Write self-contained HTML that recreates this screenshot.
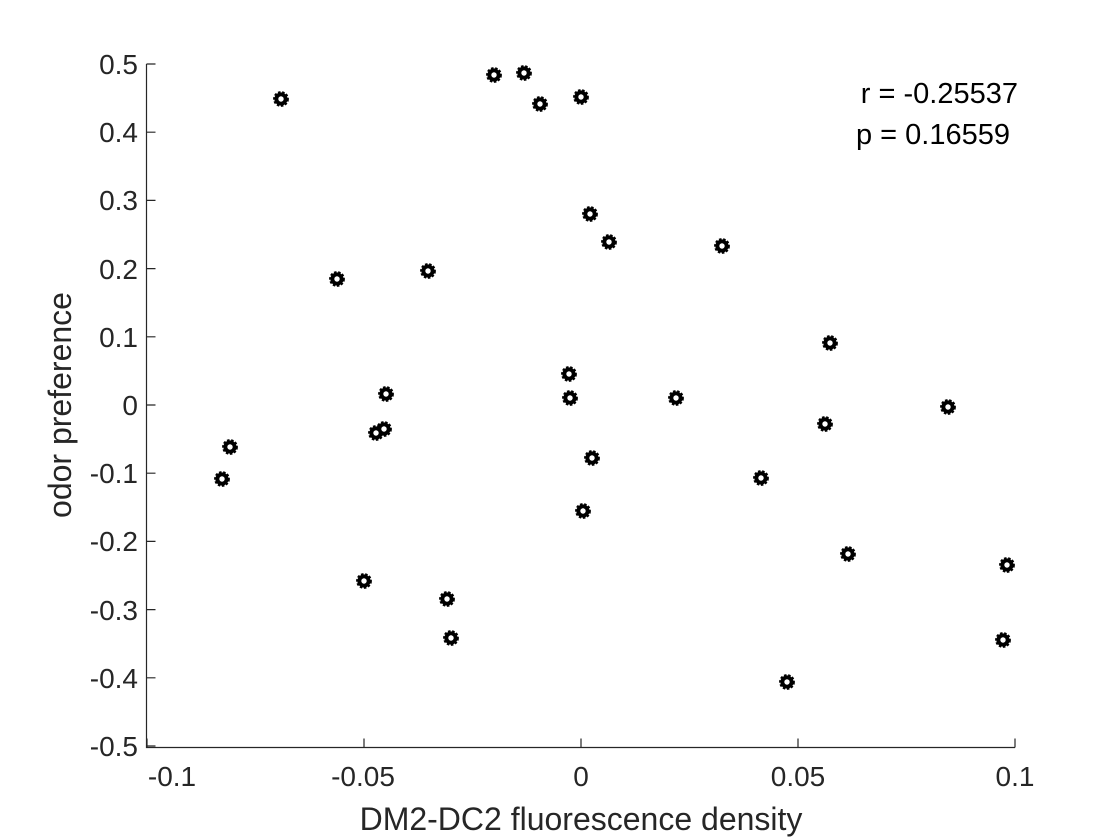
<!DOCTYPE html>
<html><head><style>body{margin:0;background:#fff}svg{display:block}text{font-family:"Liberation Sans",sans-serif}</style></head>
<body>
<svg width="1120" height="840" viewBox="0 0 1120 840">
<rect width="1120" height="840" fill="#fff"/>
<g stroke="#262626" stroke-width="1.2" fill="none">
<path d="M146.5 64V747.5H1015"/>
<path d="M146.5 64h9M146.5 132.2h9M146.5 200.4h9M146.5 268.6h9M146.5 336.8h9M146.5 405h9M146.5 473.2h9M146.5 541.4h9M146.5 609.6h9M146.5 677.8h9M146.5 746h9"/>
<path d="M147 747.5v-9M364 747.5v-9M581 747.5v-9M798 747.5v-9M1015 747.5v-9"/>
</g>
<g fill="#262626" font-size="28" text-anchor="end">
<text x="138" y="74">0.5</text><text x="138" y="142">0.4</text><text x="138" y="210">0.3</text><text x="138" y="279">0.2</text><text x="138" y="347">0.1</text><text x="138" y="415">0</text><text x="138" y="483">-0.1</text><text x="138" y="551">-0.2</text><text x="138" y="620">-0.3</text><text x="138" y="688">-0.4</text><text x="138" y="756">-0.5</text>
</g>
<g fill="#262626" font-size="28" text-anchor="middle">
<text x="172" y="786">-0.1</text><text x="363" y="786">-0.05</text><text x="581" y="786">0</text><text x="798" y="786">0.05</text><text x="1015" y="786">0.1</text>
<text x="581" y="830" font-size="32">DM2-DC2 fluorescence density</text>
<text transform="translate(71 405) rotate(-90)" font-size="32">odor preference</text>
</g>
<g font-size="29" fill="#000" text-anchor="end">
<text x="1018" y="103">r = -0.25537</text><text x="1010" y="144">p = 0.16559</text>
</g>
<g fill="#000" stroke="#000" stroke-width="2.6" stroke-dasharray="2.4 1.6">
<circle cx="281" cy="99" r="6.6"/><circle cx="494" cy="75" r="6.6"/><circle cx="524" cy="73" r="6.6"/><circle cx="540" cy="104" r="6.6"/><circle cx="581" cy="97" r="6.6"/><circle cx="590" cy="214" r="6.6"/><circle cx="609" cy="242" r="6.6"/><circle cx="722" cy="246" r="6.6"/><circle cx="337" cy="279" r="6.6"/><circle cx="428" cy="271" r="6.6"/><circle cx="830" cy="343" r="6.6"/><circle cx="569" cy="374" r="6.6"/><circle cx="570" cy="398" r="6.6"/><circle cx="386" cy="394" r="6.6"/><circle cx="376" cy="433" r="6.6"/><circle cx="384" cy="429" r="6.6"/><circle cx="676" cy="398" r="6.6"/><circle cx="948" cy="407" r="6.6"/><circle cx="825" cy="424" r="6.6"/><circle cx="230" cy="447" r="6.6"/><circle cx="222" cy="479" r="6.6"/><circle cx="592" cy="458" r="6.6"/><circle cx="761" cy="478" r="6.6"/><circle cx="583" cy="511" r="6.6"/><circle cx="848" cy="554" r="6.6"/><circle cx="1007" cy="565" r="6.6"/><circle cx="364" cy="581" r="6.6"/><circle cx="447" cy="599" r="6.6"/><circle cx="451" cy="638" r="6.6"/><circle cx="1003" cy="640" r="6.6"/><circle cx="787" cy="682" r="6.6"/>
</g>
<g fill="#fff">
<circle cx="281" cy="99" r="2.7"/><circle cx="494" cy="75" r="2.7"/><circle cx="524" cy="73" r="2.7"/><circle cx="540" cy="104" r="2.7"/><circle cx="581" cy="97" r="2.7"/><circle cx="590" cy="214" r="2.7"/><circle cx="609" cy="242" r="2.7"/><circle cx="722" cy="246" r="2.7"/><circle cx="337" cy="279" r="2.7"/><circle cx="428" cy="271" r="2.7"/><circle cx="830" cy="343" r="2.7"/><circle cx="569" cy="374" r="2.7"/><circle cx="570" cy="398" r="2.7"/><circle cx="386" cy="394" r="2.7"/><circle cx="376" cy="433" r="2.7"/><circle cx="384" cy="429" r="2.7"/><circle cx="676" cy="398" r="2.7"/><circle cx="948" cy="407" r="2.7"/><circle cx="825" cy="424" r="2.7"/><circle cx="230" cy="447" r="2.7"/><circle cx="222" cy="479" r="2.7"/><circle cx="592" cy="458" r="2.7"/><circle cx="761" cy="478" r="2.7"/><circle cx="583" cy="511" r="2.7"/><circle cx="848" cy="554" r="2.7"/><circle cx="1007" cy="565" r="2.7"/><circle cx="364" cy="581" r="2.7"/><circle cx="447" cy="599" r="2.7"/><circle cx="451" cy="638" r="2.7"/><circle cx="1003" cy="640" r="2.7"/><circle cx="787" cy="682" r="2.7"/>
</g>
</svg>
</body></html>
